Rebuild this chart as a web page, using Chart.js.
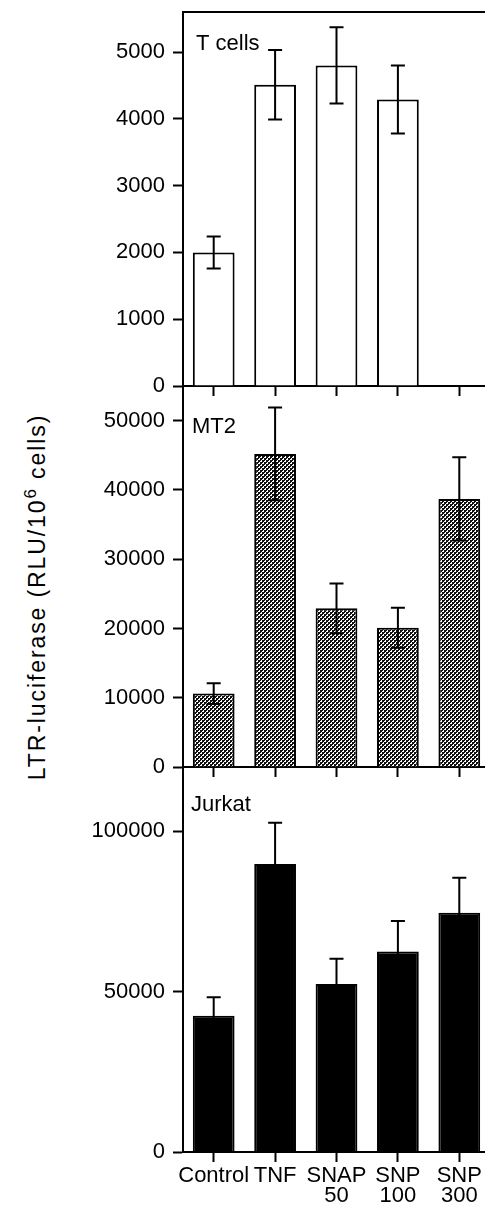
<!DOCTYPE html>
<html>
<head>
<meta charset="utf-8">
<script src="https://cdn.jsdelivr.net/npm/chart.js@4.4.1/dist/chart.umd.min.js"></script>
<style>
  html, body { margin: 0; padding: 0; background: #fff; overflow: hidden; }
  body { width: 485px; height: 1215px; position: relative; }
  canvas { position: absolute; left: 0; }
  #ylabel {
    position: absolute; left: 36px; top: 597px;
    transform: translate(-50%, -50%) rotate(-90deg);
    white-space: nowrap; font: 23px 'Liberation Sans', Arial, sans-serif;
    letter-spacing: 1.9px; color: #000;
  }
  #ylabel sup { font-size: 17px; }
</style>
</head>
<body>
<div id="ylabel">LTR-luciferase (RLU/10<sup>6</sup> cells)</div>
<canvas id="c-tcells" width="500" height="400" style="top:0"></canvas>
<canvas id="c-mt2" width="500" height="411" style="top:370px"></canvas>
<canvas id="c-jurkat" width="500" height="465" style="top:750px"></canvas>
<script>
// ── Data ────────────────────────────────────────────────
const categories = ['Control', 'TNF', ['SNAP', '50'], ['SNP', '100'], ['SNP', '300']];

const tCells    = [2000, 4510, 4800, 4290, null];
const tCellsErr = [240, 520, 570, 510, null];
const tCellsTicks = [0, 1000, 2000, 3000, 4000, 5000];

const mt2    = [10600, 45200, 22900, 20100, 38700];
const mt2Err = [1500, 6700, 3600, 2900, 6000];
const mt2Ticks = [0, 10000, 20000, 30000, 40000, 50000];

const jurkat    = [42500, 89800, 52400, 62500, 74600];
const jurkatErr = [5700, 12800, 7800, 9500, 10900];
const jurkatTicks = [0, 50000, 100000];

// ── Style ───────────────────────────────────────────────
const FONT = "'Liberation Sans', Arial, sans-serif";
const BLACK = '#000';

function hatchPattern() {
  const c = document.createElement('canvas');
  c.width = 4; c.height = 4;
  const g = c.getContext('2d');
  g.fillStyle = '#fff'; g.fillRect(0, 0, 4, 4);
  g.fillStyle = '#111';
  g.fillRect(0, 0, 2, 2); g.fillRect(2, 2, 2, 2);
  g.fillRect(2, 0, 1, 1); g.fillRect(0, 2, 1, 1);
  return g.createPattern(c, 'repeat');
}

// error bars + panel name + top frame line
const panelPlugin = {
  id: 'panel',
  afterDatasetsDraw(chart) {
    const o = chart.options.plugins.panel;
    const ctx = chart.ctx;
    const y = chart.scales.y;
    const meta = chart.getDatasetMeta(0);
    ctx.save();
    ctx.strokeStyle = BLACK;
    ctx.lineWidth = 2;
    meta.data.forEach((bar, i) => {
      const v = o.values[i], e = o.errors[i];
      if (v == null || e == null) return;
      const yt = y.getPixelForValue(v + e), yb = y.getPixelForValue(v - e);
      ctx.beginPath();
      ctx.moveTo(bar.x, yt); ctx.lineTo(bar.x, yb);
      ctx.moveTo(bar.x - 7, yt); ctx.lineTo(bar.x + 7, yt);
      ctx.moveTo(bar.x - 7, yb); ctx.lineTo(bar.x + 7, yb);
      ctx.stroke();
    });
    const a = chart.chartArea;
    if (o.frameTop) {
      ctx.beginPath();
      ctx.moveTo(a.left, a.top); ctx.lineTo(a.right, a.top);
      ctx.stroke();
    }
    ctx.fillStyle = BLACK;
    ctx.font = '22px ' + FONT;
    ctx.textBaseline = 'alphabetic';
    ctx.fillText(o.name, a.left + o.nameX, a.top + o.nameY);
    ctx.restore();
  }
};

function makePanel(id, opts) {
  new Chart(document.getElementById(id), {
    type: 'bar',
    data: {
      labels: categories,
      datasets: [{
        data: opts.values,
        backgroundColor: opts.fill,
        borderColor: BLACK,
        borderWidth: 2,
        barPercentage: 0.68,
        categoryPercentage: 1
      }]
    },
    options: {
      responsive: false,
      animation: false,
      events: [],
      layout: { padding: { top: opts.padTop, right: 10, left: 0, bottom: 0 } },
      plugins: {
        legend: { display: false },
        tooltip: { enabled: false },
        panel: {
          name: opts.name, nameX: opts.nameX, nameY: opts.nameY,
          values: opts.values, errors: opts.errors, frameTop: !!opts.frameTop
        }
      },
      scales: {
        x: {
          offset: true,
          grid: { display: true, drawOnChartArea: false, offset: false, tickLength: 10, tickWidth: 2, tickColor: BLACK },
          border: { display: true, color: BLACK, width: 2 },
          ticks: {
            display: !!opts.showLabels, color: BLACK, padding: 3, maxRotation: 0, autoSkip: false,
            font: { family: FONT, size: 22, lineHeight: 0.95 }
          },
          afterFit: s => { s.height = opts.xHeight; s.paddingLeft = 0; s.paddingRight = 0; }
        },
        y: {
          min: 0, max: opts.max,
          grid: { display: true, drawOnChartArea: false, tickLength: 10, tickWidth: 2, tickColor: BLACK },
          border: { display: true, color: BLACK, width: 2 },
          ticks: { color: BLACK, padding: 8, font: { family: FONT, size: 22 }, callback: v => String(v) },
          afterBuildTicks: s => { s.ticks = opts.ticks.map(v => ({ value: v })); },
          afterFit: s => { s.width = 183; s.paddingTop = 0; s.paddingBottom = 0; }
        }
      }
    },
    plugins: [panelPlugin]
  });
}

makePanel('c-tcells', {
  values: tCells, errors: tCellsErr, ticks: tCellsTicks, max: 5600,
  fill: '#fff', name: 'T cells', nameX: 13, nameY: 38,
  padTop: 12, xHeight: 14, frameTop: true
});
makePanel('c-mt2', {
  values: mt2, errors: mt2Err, ticks: mt2Ticks, max: 55000,
  fill: hatchPattern(), name: 'MT2', nameX: 9, nameY: 47,
  padTop: 16, xHeight: 14
});
makePanel('c-jurkat', {
  values: jurkat, errors: jurkatErr, ticks: jurkatTicks, max: 120000,
  fill: BLACK, name: 'Jurkat', nameX: 8, nameY: 44,
  padTop: 17, xHeight: 63, showLabels: true
});
</script>
</body>
</html>
